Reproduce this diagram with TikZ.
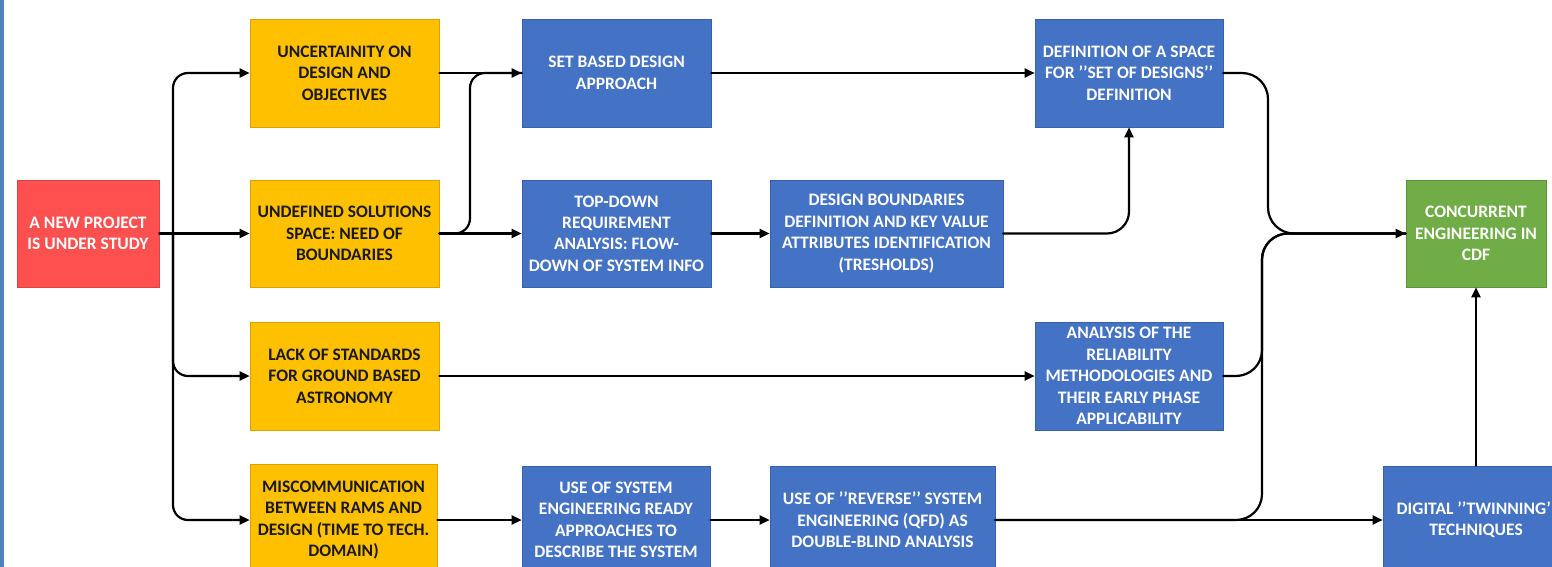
\documentclass[tikz,border=0pt]{standalone}
\usepackage{fontspec}
\setmainfont{Carlito}
\usetikzlibrary{arrows.meta}
\definecolor{cred}{HTML}{FF5050}
\definecolor{cyel}{HTML}{FFC000}
\definecolor{cblue}{HTML}{4472C4}
\definecolor{cgreen}{HTML}{70AD47}
\definecolor{cstrip}{HTML}{4F81BD}
\begin{document}
\begin{tikzpicture}[x=1pt,y=-1pt,
  box/.style={rectangle, draw=#1!85!black, line width=0.6pt, fill=#1, inner sep=0pt, align=center,
    font=\bfseries\fontsize{17.5}{21.4}\selectfont},
  ybox/.style={box=cyel, text=black!90},
  bbox/.style={box=cblue, text=white},
  rbox/.style={box=cred, text=white!95},
  gbox/.style={box=cgreen, text=white!95},
  wire/.style={line width=2.2pt, black, line cap=round},
  arr/.style={wire, -{Triangle[length=10pt,width=9pt]}},
  ]
\useasboundingbox (0,0) rectangle (1552,567);
\fill[white] (0,0) rectangle (1552,567);
\clip (0,0) rectangle (1552,567);
\fill[cstrip] (0,0) rectangle (4,567);

% nodes
\node[rbox, minimum width=142, minimum height=107] (red) at (88,233.5) {A NEW PROJECT\\IS UNDER STUDY};
\node[ybox, minimum width=189, minimum height=108] (y1) at (344.5,73) {UNCERTAINITY ON\\DESIGN AND\\OBJECTIVES};
\node[ybox, minimum width=189, minimum height=107] (y2) at (344.5,233.5) {UNDEFINED SOLUTIONS\\SPACE: NEED OF\\BOUNDARIES};
\node[ybox, minimum width=189, minimum height=108] (y3) at (344.5,376) {LACK OF STANDARDS\\FOR GROUND BASED\\ASTRONOMY};
\node[ybox, minimum width=187, minimum height=112] (y4) at (343.5,520) {MISCOMMUNICATION\\BETWEEN RAMS AND\\DESIGN (TIME TO TECH.\\DOMAIN)};
\node[bbox, minimum width=189, minimum height=108] (sbd) at (616.5,73) {SET BASED DESIGN\\APPROACH};
\node[bbox, minimum width=189, minimum height=107] (td) at (616.5,233.5) {TOP-DOWN\\REQUIREMENT\\ANALYSIS: FLOW-\\DOWN OF SYSTEM INFO};
\node[bbox, minimum width=233, minimum height=107] (db) at (886.5,233.5) {DESIGN BOUNDARIES\\DEFINITION AND KEY VALUE\\ATTRIBUTES IDENTIFICATION\\(TRESHOLDS)};
\node[bbox, minimum width=188, minimum height=108] (def) at (1129,73) {DEFINITION OF A SPACE\\FOR ’’SET OF DESIGNS’’\\DEFINITION};
\node[bbox, minimum width=188, minimum height=108] (an) at (1129,376) {ANALYSIS OF THE\\RELIABILITY\\METHODOLOGIES AND\\THEIR EARLY PHASE\\APPLICABILITY};
\node[bbox, minimum width=188, minimum height=108] (use) at (616,520) {USE OF SYSTEM\\ENGINEERING READY\\APPROACHES TO\\DESCRIBE THE SYSTEM};
\node[bbox, minimum width=225, minimum height=108] (rev) at (882.5,520) {USE OF ’’REVERSE’’ SYSTEM\\ENGINEERING (QFD) AS\\DOUBLE-BLIND ANALYSIS};
\node[gbox, minimum width=140, minimum height=107] (cdf) at (1476,233.5) {CONCURRENT\\ENGINEERING IN\\CDF};
\node[bbox, minimum width=186, minimum height=108] (dig) at (1476,520) {DIGITAL ’’TWINNING’’\\TECHNIQUES};

% junction coordinates
\coordinate (j1) at (173,233.5);
\coordinate (k1) at (470,233.5);
\coordinate (k2) at (470,73);
\coordinate (m1) at (1268,73);
\coordinate (m2) at (1268,233.5);
\coordinate (n1) at (1262,376);
\coordinate (n2) at (1262,233.5);
\coordinate (n3) at (1262,520);

% connectors
\draw[wire] (red.east) -- (j1);
\draw[arr, rounded corners=15] (j1) |- (y1.west);
\draw[arr] (j1) -- (y2.west);
\draw[arr, rounded corners=15] (j1) |- (y3.west);
\draw[arr, rounded corners=15] (j1) |- (y4.west);

\draw[arr] (y1.east) -- (sbd.west);
\draw[arr] (y2.east) -- (td.west);
\draw[wire, rounded corners=15] (y2.east) -- (k1) -- (k2) -- (sbd.west);
\draw[arr] (y3.east) -- (an.west);
\draw[arr] (y4.east) -- (use.west);

\draw[arr] (sbd.east) -- (def.west);
\draw[arr] (td.east) -- (db.west);
\draw[arr, rounded corners=22] (db.east) -| (def.south);
\draw[arr] (use.east) -- (rev.west);

\draw[arr, rounded corners=26] (def.east) -- (m1) -- (m2) -- (cdf.west);
\draw[wire, rounded corners=26] (an.east) -- (n1) -- (n2) -- (cdf.west);
\draw[wire, rounded corners=26] (rev.east) -- (n3) -- (n2) -- (cdf.west);
\draw[arr] (rev.east) -- (dig.west);
\draw[arr] (dig.north) -- (cdf.south);
\end{tikzpicture}
\end{document}
